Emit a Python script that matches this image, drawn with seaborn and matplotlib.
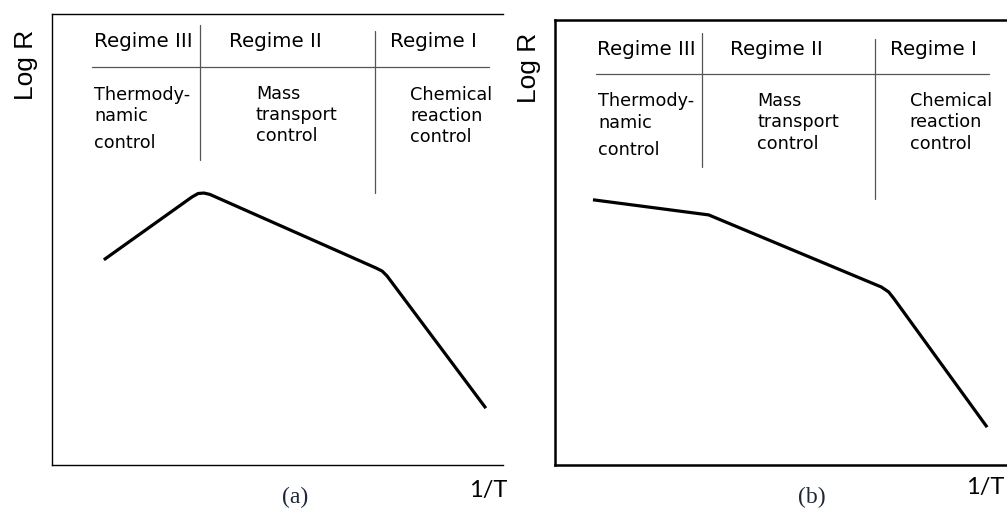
import matplotlib
matplotlib.use("Agg")
import matplotlib.pyplot as plt
import seaborn as sns
import pandas as pd

# ---- data (arbitrary units: x = 1/T, y = Log R, both 0..100) ----
curve_a_x = [11.5, 31.0, 32.4, 33.7, 35.0, 71.8, 73.2, 74.3, 96.2]
curve_a_y = [45.5, 59.4, 60.2, 60.3, 60.0, 43.7, 43.0, 41.9, 12.6]

curve_b_x = [8.4, 34.0, 72.2, 73.8, 74.9, 95.6]
curve_b_y = [59.6, 56.2, 40.0, 38.9, 37.5, 8.5]

regime_titles = ["Regime III", "Regime II", "Regime I"]
regime_desc = [["Thermody-", "namic", "control"],
               ["Mass", "transport", "control"],
               ["Chemical", "reaction", "control"]]
panel_labels = ["(a)", "(b)"]
x_label = "1/T"
y_label = "Log R"

sns.set_theme(style="white")
plt.rcParams["font.family"] = ["DejaVu Sans"]

fig = plt.figure(figsize=(10.07, 5.11), dpi=100)

W, H = 1007.0, 511.0

def fx(px):
    return px / W

def fy(py):
    return 1 - py / H

panels = [
    dict(rect=(52, 14, 503, 465), spine_lw=1.0, data=(curve_a_x, curve_a_y),
         title_x=[0.093, 0.392, 0.749], title_y=0.938,
         desc_x=[0.093, 0.452, 0.794],
         desc_y=[[0.820, 0.774, 0.714], [0.823, 0.776, 0.729], [0.820, 0.774, 0.727]],
         v1=(0.328, 0.676, 0.976), v2=(0.716, 0.603, 0.962), h=(0.882, 0.089, 0.969),
         ylab=(26, 65), xlab=(488, 490), plab=(295, 497)),
    dict(rect=(555, 20, 1007, 465), spine_lw=1.8, data=(curve_b_x, curve_b_y),
         title_x=[0.093, 0.387, 0.741], title_y=0.933,
         desc_x=[0.095, 0.447, 0.785],
         desc_y=[[0.818, 0.769, 0.708], [0.818, 0.771, 0.721], [0.818, 0.771, 0.721]],
         v1=(0.325, 0.670, 0.971), v2=(0.708, 0.598, 0.957), h=(0.879, 0.091, 0.960),
         ylab=(529, 68), xlab=(985, 487), plab=(812, 497)),
]

for i, p in enumerate(panels):
    x0, y0, x1, y1 = p["rect"]
    ax = fig.add_axes([fx(x0), fy(y1), (x1 - x0) / W, (y1 - y0) / H])
    xs, ys = p["data"]
    df = pd.DataFrame({"x": xs, "y": ys})
    sns.lineplot(data=df, x="x", y="y", sort=False, estimator=None, ax=ax,
                 color="black", linewidth=2.3, solid_joinstyle="round",
                 solid_capstyle="butt")
    ax.set_xlim(0, 100)
    ax.set_ylim(0, 100)
    ax.set_xticks([])
    ax.set_yticks([])
    ax.set_xlabel("")
    ax.set_ylabel("")
    for s in ["left", "top", "bottom"]:
        ax.spines[s].set_visible(True)
        ax.spines[s].set_color("black")
        ax.spines[s].set_linewidth(p["spine_lw"])
    ax.spines["right"].set_visible(False)

    # regime dividers
    tr = ax.transAxes
    vx, vy0, vy1 = p["v1"]
    ax.plot([vx, vx], [vy0, vy1], transform=tr, color="#555555", lw=0.9)
    vx, vy0, vy1 = p["v2"]
    ax.plot([vx, vx], [vy0, vy1], transform=tr, color="#555555", lw=0.9)
    hy, hx0, hx1 = p["h"]
    ax.plot([hx0, hx1], [hy, hy], transform=tr, color="#555555", lw=0.9)

    for j, t in enumerate(regime_titles):
        ax.text(p["title_x"][j], p["title_y"], t, transform=tr, ha="left",
                va="center", fontsize=14.3, color="black")
        for k, line in enumerate(regime_desc[j]):
            ax.text(p["desc_x"][j], p["desc_y"][j][k], line, transform=tr,
                    ha="left", va="center", fontsize=12.7, color="black")

    fig.text(fx(p["ylab"][0]), fy(p["ylab"][1]), y_label, rotation=90,
             ha="center", va="center", fontsize=19, color="black",
             family=["Liberation Sans", "DejaVu Sans"])
    fig.text(fx(p["xlab"][0]), fy(p["xlab"][1]), x_label, ha="center",
             va="center", fontsize=17, color="black",
             family=["Lato", "DejaVu Sans"])
    fig.text(fx(p["plab"][0]), fy(p["plab"][1]), panel_labels[i], ha="center",
             va="center", fontsize=17, color="#1c2838",
             family=["Liberation Serif", "DejaVu Serif"])

fig.savefig("out.png", dpi=100)
